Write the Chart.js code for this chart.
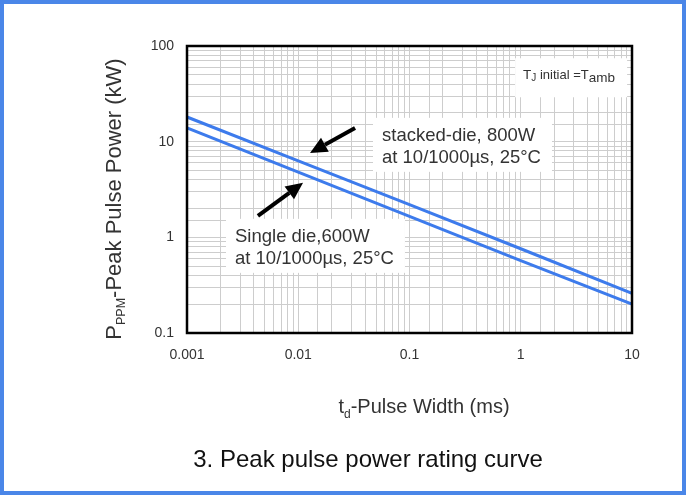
<!DOCTYPE html>
<html>
<head>
<meta charset="utf-8">
<script src="https://cdn.jsdelivr.net/npm/chart.js@4.4.0/dist/chart.umd.min.js"></script>
<style>
html, body { margin: 0; padding: 0; background: #fff; }
#wrap { width: 686px; height: 495px; }
</style>
</head>
<body>
<div id="wrap"><canvas id="pulseChart" width="686" height="495"></canvas></div>
<script>
// curve values (kW against ms)
const pulseWidthMs = [0.001, 0.01, 0.1, 1, 10];
const stackedDieKw = [18.1, 6.3, 2.2, 0.76, 0.26];
const singleDieKw = [13.9, 4.8, 1.66, 0.57, 0.2];
const xTickValues = [0.001, 0.01, 0.1, 1, 10];
const yTickValues = [0.1, 1, 10, 100];

// callouts, placed in data units
const callouts = [
    { x: 0.0566, y: 10.2, lines: ['stacked-die, 800W', 'at 10/1000µs, 25°C'] },
    { x: 0.0027, y: 0.897, lines: ['Single die,600W', 'at 10/1000µs, 25°C'] }
];
const arrows = [
    { from: [0.0324, 13.9], to: [0.01276, 7.63] },
    { from: [0.00434, 1.677], to: [0.01104, 3.71] }
];
const tjNote = { x: 1.05, y: 44.9 };

const FONT = '"Liberation Sans", Arial, sans-serif';

function toPoints(xs, ys) {
    return xs.map((x, i) => ({ x: x, y: ys[i] }));
}

function majorLabel(list) {
    return function (value) {
        const hit = list.find(v => Math.abs(Math.log10(v) - Math.log10(value)) < 1e-6);
        return hit === undefined ? '' : String(hit);
    };
}

// draws text runs with sub-scripts; parts = [{t, size, dy}]
function drawRuns(ctx, parts, x, y, align) {
    let total = 0;
    parts.forEach(p => {
        ctx.font = p.size + 'px ' + FONT;
        p.w = ctx.measureText(p.t).width;
        total += p.w;
    });
    let cx = align === 'center' ? x - total / 2 : x;
    ctx.textAlign = 'left';
    ctx.textBaseline = 'alphabetic';
    parts.forEach(p => {
        ctx.font = p.size + 'px ' + FONT;
        ctx.fillText(p.t, cx, y + (p.dy || 0));
        cx += p.w;
    });
    return total;
}

function drawArrow(ctx, x1, y1, x2, y2) {
    const ang = Math.atan2(y2 - y1, x2 - x1);
    const head = 17, half = 8;
    const bx = x2 - Math.cos(ang) * head, by = y2 - Math.sin(ang) * head;
    ctx.strokeStyle = '#000';
    ctx.lineWidth = 4;
    ctx.beginPath();
    ctx.moveTo(x1, y1);
    ctx.lineTo(bx, by);
    ctx.stroke();
    ctx.fillStyle = '#000';
    ctx.beginPath();
    ctx.moveTo(x2, y2);
    ctx.lineTo(bx + Math.sin(ang) * half, by - Math.cos(ang) * half);
    ctx.lineTo(bx - Math.sin(ang) * half, by + Math.cos(ang) * half);
    ctx.closePath();
    ctx.fill();
}

const decor = {
    id: 'decor',
    beforeDraw(chart) {
        const ctx = chart.ctx;
        ctx.save();
        ctx.fillStyle = '#fff';
        ctx.fillRect(0, 0, chart.width, chart.height);
        ctx.restore();
    },
    beforeDatasetsDraw(chart) {
        // white boxes behind the notes hide the grid
        const ctx = chart.ctx, xs = chart.scales.x, ys = chart.scales.y;
        ctx.save();
        ctx.font = '18.5px ' + FONT;
        callouts.forEach(c => {
            const px = xs.getPixelForValue(c.x), py = ys.getPixelForValue(c.y);
            const w = Math.max(...c.lines.map(l => ctx.measureText(l).width));
            ctx.fillStyle = '#fff';
            ctx.fillRect(px - 9, py - 23, w + 20, 54);
        });
        const tx = xs.getPixelForValue(tjNote.x), ty = ys.getPixelForValue(tjNote.y);
        ctx.fillRect(tx - 8, ty - 21, 112, 39);
        ctx.restore();
    },
    afterDatasetsDraw(chart) {
        const ctx = chart.ctx, xs = chart.scales.x, ys = chart.scales.y;
        const a = chart.chartArea;
        ctx.save();

        // plot frame
        ctx.strokeStyle = '#000';
        ctx.lineWidth = 2.5;
        ctx.strokeRect(a.left, a.top, a.right - a.left, a.bottom - a.top);

        // callout text
        ctx.fillStyle = '#333';
        ctx.font = '18.5px ' + FONT;
        ctx.textAlign = 'left';
        ctx.textBaseline = 'alphabetic';
        callouts.forEach(c => {
            const px = xs.getPixelForValue(c.x), py = ys.getPixelForValue(c.y);
            c.lines.forEach((l, i) => ctx.fillText(l, px, py + i * 22));
        });

        arrows.forEach(ar => {
            drawArrow(ctx,
                xs.getPixelForValue(ar.from[0]), ys.getPixelForValue(ar.from[1]),
                xs.getPixelForValue(ar.to[0]), ys.getPixelForValue(ar.to[1]));
        });

        // T_J initial = T_amb
        ctx.fillStyle = '#333';
        drawRuns(ctx, [
            { t: 'T', size: 13.5 },
            { t: 'J', size: 10, dy: 2 },
            { t: ' initial =T', size: 13 },
            { t: 'amb', size: 13.5, dy: 3 }
        ], xs.getPixelForValue(tjNote.x), ys.getPixelForValue(tjNote.y), 'left');

        // axis titles
        ctx.fillStyle = '#333';
        ctx.save();
        ctx.translate(121, 199);
        ctx.rotate(-Math.PI / 2);
        drawRuns(ctx, [
            { t: 'P', size: 22 },
            { t: 'PPM', size: 12.5, dy: 4 },
            { t: '-Peak Pulse Power (kW)', size: 22 }
        ], 0, 0, 'center');
        ctx.restore();

        drawRuns(ctx, [
            { t: 't', size: 20 },
            { t: 'd', size: 12, dy: 5 },
            { t: '-Pulse Width (ms)', size: 20 }
        ], 424, 413, 'center');

        // caption
        ctx.fillStyle = '#111';
        drawRuns(ctx, [{ t: '3. Peak pulse power rating curve', size: 24 }], 368, 467, 'center');

        // outer blue frame
        ctx.strokeStyle = '#4a86e8';
        ctx.lineWidth = 4;
        ctx.strokeRect(2, 2, chart.width - 4, chart.height - 4);
        ctx.restore();
    }
};

const gridStyle = { color: '#cdcdcd', lineWidth: 1, drawTicks: false };

new Chart(document.getElementById('pulseChart'), {
    type: 'scatter',
    data: {
        datasets: [
            {
                label: 'stacked-die, 800W',
                data: toPoints(pulseWidthMs, stackedDieKw),
                showLine: true,
                borderColor: '#3d7bec',
                borderWidth: 3,
                pointRadius: 0
            },
            {
                label: 'Single die, 600W',
                data: toPoints(pulseWidthMs, singleDieKw),
                showLine: true,
                borderColor: '#3d7bec',
                borderWidth: 3,
                pointRadius: 0
            }
        ]
    },
    options: {
        responsive: false,
        animation: false,
        devicePixelRatio: 1,
        layout: { padding: { left: 0, top: 46, right: 54, bottom: 0 } },
        plugins: {
            legend: { display: false },
            tooltip: { enabled: false }
        },
        scales: {
            x: {
                type: 'logarithmic',
                min: 0.001,
                max: 10,
                grid: gridStyle,
                border: { display: false },
                ticks: {
                    autoSkip: false,
                    maxRotation: 0,
                    padding: 14,
                    color: '#333',
                    font: { family: FONT, size: 14 },
                    callback: majorLabel(xTickValues)
                },
                afterFit(scale) { scale.height = 162; }
            },
            y: {
                type: 'logarithmic',
                min: 0.1,
                max: 100,
                grid: gridStyle,
                border: { display: false },
                ticks: {
                    autoSkip: false,
                    padding: 13,
                    color: '#333',
                    font: { family: FONT, size: 14 },
                    callback: majorLabel(yTickValues)
                },
                afterFit(scale) { scale.width = 187; }
            }
        }
    },
    plugins: [decor]
});
</script>
</body>
</html>
